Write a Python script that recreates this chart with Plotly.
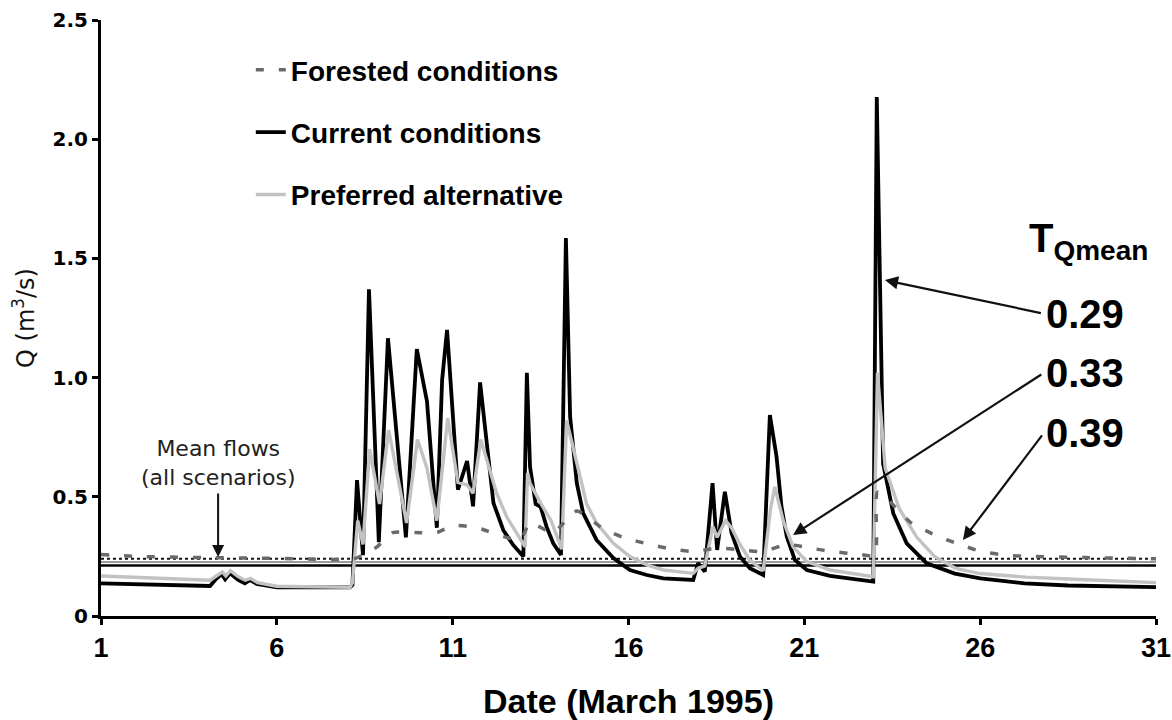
import plotly.graph_objects as go

# ---- Discharge series, March 1995 (day of month, Q in m3/s) ----
current_day = [1.0, 4.1, 4.29, 4.43, 4.53, 4.67, 4.90, 5.09, 5.24, 5.43,
               6.0, 8.08, 8.15, 8.28, 8.45, 8.62, 8.90, 9.16, 9.67, 9.98,
               10.27, 10.55, 10.70, 10.84, 11.15, 11.41, 11.58, 11.78, 11.97, 12.16,
               12.44, 12.72, 13.01, 13.11, 13.20, 13.36, 13.50, 13.67, 13.86, 14.08,
               14.22, 14.34, 14.53, 14.71, 15.09, 15.57, 16.04, 16.52, 16.99, 17.84,
               17.98, 18.17, 18.39, 18.52, 18.74, 18.93, 19.17, 19.45, 19.83, 20.02,
               20.21, 20.35, 20.50, 20.73, 21.07, 21.73, 22.96, 23.06, 23.24, 23.53,
               23.91, 24.48, 25.28, 26.0, 27.26, 28.5, 31.0]
current_q = [0.137, 0.126, 0.158, 0.175, 0.154, 0.179, 0.151, 0.137, 0.151, 0.134,
             0.12, 0.12, 0.13, 0.57, 0.255, 1.37, 0.31, 1.165, 0.33, 1.12,
             0.90, 0.37, 0.99, 1.20, 0.53, 0.65, 0.46, 0.98, 0.725, 0.474,
             0.36, 0.298, 0.25, 1.02, 0.626, 0.47, 0.458, 0.375, 0.305, 0.256,
             1.585, 0.836, 0.557, 0.432, 0.319, 0.243, 0.193, 0.172, 0.158, 0.151,
             0.222, 0.186, 0.557, 0.277, 0.521, 0.348, 0.249, 0.20, 0.172, 0.843,
             0.668, 0.459, 0.333, 0.235, 0.193, 0.168, 0.144, 2.177, 0.64, 0.43,
             0.305, 0.221, 0.178, 0.158, 0.137, 0.128, 0.121]

preferred_day = [1.0, 2.5, 4.1, 4.3, 4.45, 4.55, 4.68, 4.9, 5.1, 5.25,
                 5.45, 6.0, 8.08, 8.15, 8.3, 8.45, 8.64, 8.92, 9.18, 9.69,
                 10.0, 10.27, 10.55, 10.86, 11.15, 11.41, 11.58, 11.8, 12.25, 12.54,
                 12.91, 13.06, 13.13, 13.2, 13.5, 13.8, 14.05, 14.1, 14.24, 14.53,
                 14.81, 15.09, 15.57, 16.04, 16.52, 16.99, 17.84, 17.98, 18.17, 18.4,
                 18.52, 18.76, 18.93, 19.17, 19.45, 19.83, 20.04, 20.16, 20.40, 20.68,
                 21.07, 21.73, 22.96, 23.08, 23.3, 23.7, 24.2, 24.7, 25.3, 26.0,
                 27.3, 28.5, 31.0]
preferred_q = [0.168, 0.16, 0.15, 0.17, 0.185, 0.168, 0.19, 0.165, 0.15, 0.158,
               0.14, 0.125, 0.12, 0.14, 0.40, 0.30, 0.70, 0.47, 0.78, 0.39,
               0.74, 0.62, 0.40, 0.83, 0.56, 0.55, 0.515, 0.74, 0.515, 0.415,
               0.33, 0.29, 0.60, 0.557, 0.474, 0.40, 0.30, 0.28, 0.82, 0.64,
               0.47, 0.39, 0.305, 0.249, 0.214, 0.193, 0.179, 0.20, 0.21, 0.375,
               0.33, 0.40, 0.37, 0.30, 0.235, 0.19, 0.45, 0.542, 0.40, 0.29,
               0.228, 0.193, 0.165, 1.02, 0.62, 0.45, 0.33, 0.25, 0.20, 0.178,
               0.163, 0.155, 0.14]

forested_day = [1.0, 2.0, 4.0, 6.0, 8.2, 8.5, 8.85, 9.3, 9.93, 10.55,
                11.01, 11.69, 12.91, 13.2, 13.85, 14.53, 15.24, 15.84, 16.61, 17.26,
                17.89, 18.5, 19.25, 19.82, 20.5, 21.16, 21.81, 22.5, 23.0, 23.09,
                24.0, 24.71, 25.42, 26.05, 26.76, 27.41, 29.0, 31.0]
forested_q = [0.258, 0.25, 0.245, 0.242, 0.24, 0.26, 0.29, 0.35, 0.35, 0.35,
              0.38, 0.37, 0.32, 0.39, 0.35, 0.44, 0.37, 0.33, 0.30, 0.28,
              0.27, 0.285, 0.277, 0.27, 0.30, 0.285, 0.27, 0.26, 0.255, 0.52,
              0.395, 0.34, 0.30, 0.27, 0.255, 0.25, 0.245, 0.24]

# Monthly mean flow for each scenario
mean_names = ["Forested mean", "Preferred mean", "Current mean"]
mean_q = [0.24, 0.226, 0.212]
mean_styles = [dict(color="#111111", width=2, dash="dot"),
               dict(color="#9a9a9a", width=2),
               dict(color="#000000", width=2.5)]

# Fraction of time above the mean flow (T_Qmean), with the point each label indicates
tq_labels = ["0.29", "0.33", "0.39"]
tq_text_x = 27.81
tq_text_y = [1.268, 1.020, 0.768]
tq_tip_x = [23.29, 20.68, 25.51]
tq_tip_y = [1.409, 0.340, 0.319]

x_ticks = [1, 6, 11, 16, 21, 26, 31]
y_ticks = [0, 0.5, 1.0, 1.5, 2.0, 2.5]
y_ticktext = ["0", "0.5", "1.0", "1.5", "2.0", "2.5"]

fig = go.Figure()

for name, q, style in zip(mean_names, mean_q, mean_styles):
    fig.add_trace(go.Scatter(x=[x_ticks[0], x_ticks[-1]], y=[q, q], mode="lines",
                             line=style, showlegend=False, hoverinfo="skip", name=name))

fig.add_trace(go.Scatter(x=current_day, y=current_q, mode="lines",
                         name="Current conditions", legendgroup="c", legendrank=2,
                         line=dict(color="#000000", width=3.8)))
fig.add_trace(go.Scatter(x=preferred_day, y=preferred_q, mode="lines",
                         name="Preferred alternative", legendgroup="p", legendrank=3,
                         line=dict(color="#c2c2c2", width=3.4)))
fig.add_trace(go.Scatter(x=forested_day, y=forested_q, mode="lines",
                         name="Forested conditions", legendgroup="f", legendrank=1,
                         line=dict(color="#6a6a6a", width=3.5, dash="8px,15px",
                                   shape="spline", smoothing=0.6)))

label_font = dict(family="Liberation Sans", size=40, color="#000000", weight="bold")

annotations = [
    # "Mean flows" note with its arrow pointing at the mean lines
    dict(x=4.33, y=0.247, ax=4.33, ay=0.522, xref="x", yref="y", axref="x", ayref="y",
         text="Mean flows<br>(all scenarios)", yanchor="bottom", showarrow=True,
         arrowhead=2, arrowsize=1.2, arrowwidth=2, arrowcolor="#111111",
         startstandoff=2,
         font=dict(family="DejaVu Sans", size=22, color="#222222")),
    dict(x=27.33, y=1.575, xref="x", yref="y", xanchor="left", yanchor="middle",
         showarrow=False, text="T<sub>Qmean</sub>", font=label_font),
]
for lab, ty, tx, tipy in zip(tq_labels, tq_text_y, tq_tip_x, tq_tip_y):
    annotations.append(dict(x=tx, y=tipy, ax=tq_text_x, ay=ty, xref="x", yref="y",
                            axref="x", ayref="y", xanchor="left", yanchor="middle",
                            text=lab, showarrow=True, arrowhead=2, arrowsize=1.2,
                            arrowwidth=2.2, arrowcolor="#111111", startstandoff=3,
                            font=label_font))

fig.update_layout(
    width=1172, height=720,
    margin=dict(l=101, r=16, t=20, b=104, autoexpand=False),
    paper_bgcolor="white", plot_bgcolor="white",
    showlegend=True,
    legend=dict(x=0.142, y=0.958, xanchor="left", yanchor="top",
                bgcolor="rgba(0,0,0,0)", tracegroupgap=23,
                font=dict(family="Liberation Sans", size=28, color="#000000",
                          weight="bold")),
    annotations=annotations,
    xaxis=dict(range=[1, 31], tickvals=x_ticks, showgrid=False, zeroline=False,
               automargin=False,
               showline=True, linecolor="black", linewidth=3,
               ticks="outside", ticklen=6, tickwidth=3, tickcolor="black",
               ticklabeloverflow="allow",
               tickfont=dict(family="Liberation Sans", size=27, color="black",
                             weight="bold"),
               title=dict(text="Date (March 1995)", standoff=28,
                          font=dict(family="Liberation Sans", size=34,
                                    color="black", weight="bold"))),
    yaxis=dict(range=[0, 2.5], tickvals=y_ticks, ticktext=y_ticktext,
               showgrid=False, zeroline=False, automargin=False,
               showline=True, linecolor="black", linewidth=3,
               ticks="outside", ticklen=6, tickwidth=3, tickcolor="black",
               tickfont=dict(family="DejaVu Sans", size=20, color="black",
                             weight="bold"),
               title=dict(text="Q (m<sup>3</sup>/s)", standoff=12,
                          font=dict(family="DejaVu Sans", size=24, color="#111111"))),
)

fig.write_html("out.html")
